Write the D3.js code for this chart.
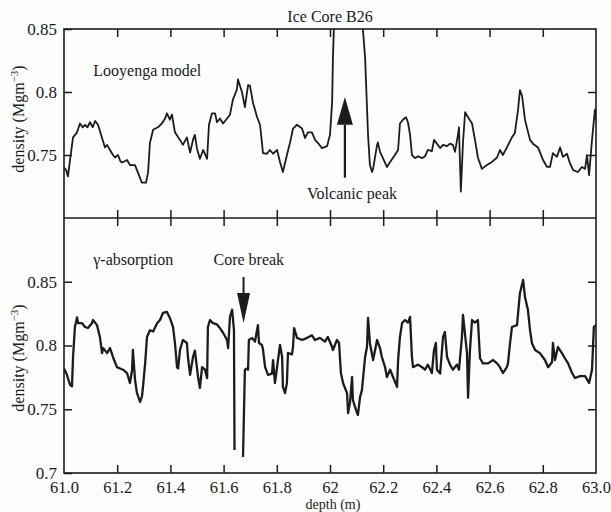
<!DOCTYPE html>
<html><head><meta charset="utf-8">
<script src="https://cdn.jsdelivr.net/npm/d3@7"></script>
<style>
html,body{margin:0;padding:0;background:#fff;}
svg text{font-family:"Liberation Serif","Times New Roman",serif;fill:#1a1a1a;}
</style></head>
<body><svg id="c" width="611" height="512"></svg>
<script>
// ---- data ----
const depthTicks = [61.0,61.2,61.4,61.6,61.8,62.0,62.2,62.4,62.6,62.8,63.0];
const depthTickLabels = ["61.0","61.2","61.4","61.6","61.8","62","62.2","62.4","62.6","62.8","63.0"];
const topTicks = [0.75,0.8,0.85];
const topTickLabels = ["0.75","0.8","0.85"];
const bottomTicks = [0.7,0.75,0.8,0.85];
const bottomTickLabels = ["0.7","0.75","0.8","0.85"];

// Looyenga model [depth m, density Mg m^-3]
const looyenga = [
[61.000,0.740],[61.008,0.738],[61.015,0.733],[61.022,0.745],[61.034,0.764],[61.049,0.768],[61.060,0.775],[61.070,0.772],
[61.079,0.774],[61.088,0.772],[61.098,0.776],[61.108,0.772],[61.117,0.777],[61.128,0.774],[61.143,0.7635],[61.154,0.756],
[61.162,0.758],[61.173,0.754],[61.184,0.750],[61.192,0.748],[61.203,0.750],[61.212,0.745],[61.218,0.744],[61.228,0.745],
[61.237,0.746],[61.248,0.742],[61.267,0.742],[61.278,0.736],[61.293,0.728],[61.308,0.728],[61.316,0.736],[61.323,0.7595],
[61.335,0.770],[61.353,0.772],[61.368,0.775],[61.380,0.779],[61.387,0.783],[61.398,0.778],[61.406,0.782],[61.417,0.768],
[61.436,0.762],[61.447,0.758],[61.462,0.764],[61.474,0.752],[61.485,0.762],[61.492,0.766],[61.500,0.755],[61.511,0.747],
[61.523,0.754],[61.538,0.747],[61.545,0.774],[61.556,0.783],[61.568,0.783],[61.575,0.776],[61.586,0.779],[61.598,0.775],
[61.613,0.779],[61.624,0.782],[61.635,0.794],[61.650,0.802],[61.654,0.810],[61.669,0.800],[61.680,0.788],[61.692,0.8055],
[61.699,0.805],[61.711,0.791],[61.726,0.780],[61.737,0.774],[61.744,0.760],[61.748,0.7515],[61.763,0.751],[61.774,0.754],
[61.786,0.751],[61.801,0.754],[61.812,0.7445],[61.823,0.7365],[61.838,0.750],[61.850,0.760],[61.861,0.771],[61.876,0.774],
[61.895,0.771],[61.906,0.7635],[61.917,0.768],[61.932,0.768],[61.944,0.762],[61.955,0.7595],[61.970,0.7555],[61.989,0.757],
[62.000,0.766],[62.008,0.792],[62.011,0.827],[62.016,0.86],[62.025,0.95],[62.110,0.95],[62.120,0.86],[62.132,0.827],
[62.143,0.766],[62.150,0.742],[62.158,0.7365],[62.162,0.739],[62.177,0.758],[62.180,0.760],[62.188,0.7525],[62.199,0.7475],
[62.214,0.7405],[62.226,0.7445],[62.244,0.750],[62.256,0.754],[62.263,0.775],[62.274,0.778],[62.286,0.780],[62.293,0.776],
[62.301,0.766],[62.308,0.750],[62.320,0.7475],[62.331,0.749],[62.346,0.7475],[62.357,0.749],[62.368,0.754],[62.383,0.753],
[62.391,0.762],[62.402,0.759],[62.414,0.7555],[62.425,0.758],[62.440,0.757],[62.451,0.759],[62.462,0.758],[62.470,0.7525],
[62.481,0.766],[62.485,0.772],[62.487,0.755],[62.492,0.721],[62.500,0.760],[62.508,0.784],[62.519,0.780],[62.534,0.775],
[62.545,0.762],[62.556,0.748],[62.571,0.739],[62.590,0.742],[62.609,0.7445],[62.628,0.748],[62.639,0.754],[62.650,0.750],
[62.665,0.756],[62.684,0.764],[62.695,0.7675],[62.707,0.786],[62.714,0.8015],[62.722,0.797],[62.733,0.778],[62.752,0.762],
[62.763,0.759],[62.782,0.756],[62.801,0.746],[62.816,0.7405],[62.827,0.7405],[62.838,0.7515],[62.853,0.7485],[62.865,0.756],
[62.876,0.7485],[62.891,0.751],[62.902,0.7435],[62.914,0.738],[62.932,0.7365],[62.947,0.7405],[62.959,0.739],[62.966,0.750],
[62.974,0.734],[62.985,0.762],[62.996,0.786],[63.000,0.778]
];

// gamma-absorption [depth m, density Mg m^-3]; null = core break gap
const gammaAbs = [
[61.000,0.782],[61.011,0.777],[61.023,0.769],[61.030,0.768],[61.034,0.791],[61.041,0.8145],[61.049,0.822],[61.053,0.8175],
[61.068,0.8175],[61.079,0.8145],[61.090,0.8137],[61.105,0.8175],[61.109,0.820],[61.124,0.816],[61.135,0.8067],[61.143,0.794],
[61.147,0.798],[61.162,0.794],[61.173,0.798],[61.184,0.791],[61.199,0.783],[61.211,0.782],[61.222,0.781],[61.237,0.7784],
[61.248,0.7706],[61.256,0.781],[61.259,0.7965],[61.267,0.773],[61.274,0.763],[61.286,0.7557],[61.293,0.760],[61.297,0.7675],
[61.305,0.786],[61.312,0.8067],[61.323,0.812],[61.335,0.811],[61.350,0.8175],[61.361,0.820],[61.372,0.8255],[61.387,0.8263],
[61.398,0.8216],[61.410,0.8145],[61.417,0.802],[61.425,0.783],[61.429,0.782],[61.436,0.7965],[61.447,0.8043],[61.462,0.802],
[61.466,0.791],[61.474,0.777],[61.485,0.791],[61.492,0.796],[61.504,0.7753],[61.511,0.7667],[61.519,0.783],[61.530,0.781],
[61.538,0.7745],[61.541,0.8145],[61.549,0.820],[61.560,0.8175],[61.575,0.8165],[61.586,0.8137],[61.598,0.810],[61.613,0.8043],
[61.617,0.798],[61.624,0.8224],[61.632,0.828],[61.639,0.812],[61.641,0.718],[61.657,null],[61.673,0.7126],[61.680,0.781],
[61.688,0.782],[61.692,0.781],[61.695,0.8043],[61.707,0.806],[61.718,0.803],[61.729,0.816],[61.733,0.802],[61.744,0.8004],
[61.748,0.797],[61.756,0.783],[61.767,0.777],[61.782,0.778],[61.786,0.7886],[61.793,0.7706],[61.801,0.783],[61.812,0.8004],
[61.820,0.791],[61.823,0.7675],[61.831,0.7627],[61.838,0.7706],[61.842,0.7941],[61.857,0.793],[61.861,0.7988],[61.865,0.8137],
[61.876,0.806],[61.895,0.8043],[61.914,0.806],[61.932,0.808],[61.944,0.8043],[61.962,0.806],[61.981,0.803],[61.992,0.8067],
[62.008,0.7988],[62.011,0.7965],[62.026,0.8043],[62.034,0.802],[62.041,0.7784],[62.049,0.7706],[62.064,0.7627],[62.068,0.747],
[62.075,0.755],[62.083,0.7753],[62.086,0.7573],[62.094,0.7518],[62.102,0.747],[62.105,0.7455],[62.113,0.7596],[62.120,0.765],
[62.132,0.791],[62.139,0.7988],[62.143,0.8216],[62.150,0.802],[62.162,0.7886],[62.177,0.8043],[62.188,0.798],[62.195,0.791],
[62.207,0.783],[62.214,0.7753],[62.226,0.781],[62.237,0.7753],[62.252,0.7675],[62.256,0.7886],[62.263,0.8067],[62.271,0.8176],
[62.282,0.820],[62.293,0.818],[62.301,0.8224],[62.308,0.791],[62.312,0.783],[62.331,0.785],[62.346,0.783],[62.357,0.781],
[62.368,0.785],[62.383,0.7784],[62.391,0.7965],[62.398,0.802],[62.402,0.781],[62.414,0.778],[62.425,0.8067],[62.432,0.8106],
[62.440,0.791],[62.451,0.785],[62.462,0.781],[62.477,0.785],[62.485,0.781],[62.496,0.8067],[62.500,0.824],[62.508,0.808],
[62.515,0.794],[62.519,0.759],[62.526,0.796],[62.534,0.820],[62.545,0.818],[62.556,0.820],[62.564,0.790],[62.575,0.786],
[62.594,0.786],[62.613,0.7886],[62.628,0.786],[62.639,0.783],[62.650,0.7784],[62.665,0.783],[62.669,0.786],[62.677,0.802],
[62.684,0.8145],[62.703,0.816],[62.714,0.841],[62.726,0.8514],[62.733,0.838],[62.744,0.828],[62.752,0.812],[62.759,0.802],
[62.771,0.7965],[62.789,0.794],[62.808,0.7886],[62.820,0.783],[62.835,0.787],[62.838,0.802],[62.846,0.7886],[62.857,0.7988],
[62.872,0.794],[62.883,0.790],[62.895,0.786],[62.910,0.7784],[62.921,0.7745],[62.940,0.776],[62.959,0.776],[62.974,0.7706],
[62.985,0.781],[62.992,0.8145],[63.000,0.816]
];

// annotations: text labels and arrows (depth, density)
const topLabels = [{t:"Looyenga model", d:61.11, v:0.8130},{t:"Volcanic peak", d:61.914, v:0.7151}];
const bottomLabels = [{t:"\u03b3-absorption", d:61.11, v:0.8635},{t:"Core break", d:61.562, v:0.8635}];
const upArrow = {d:62.056, tail:0.732, head:0.774, tip:0.796};
const downArrow = {d:61.675, tail:0.8537, head:0.8412, tip:0.8176};

// ---- layout ----
const L = 64, R = 596, T1 = 29, M = 218, B2 = 473;
const svg = d3.select("#c");
const ink = "#1c1c1c";

const x = d3.scaleLinear().domain([61, 63]).range([L, R]);
const yTop = d3.scaleLinear().domain([0.70, 0.85]).range([M, T1]);
const yBot = d3.scaleLinear().domain([0.70, 0.90]).range([B2, M]);

svg.append("rect").attr("width",611).attr("height",512).attr("fill","#fdfdfd");

const defs = svg.append("defs");
defs.append("clipPath").attr("id","cTop").append("rect").attr("x",L).attr("y",T1).attr("width",R-L).attr("height",M-T1);
defs.append("clipPath").attr("id","cBot").append("rect").attr("x",L).attr("y",M).attr("width",R-L).attr("height",B2-M);

// lines
const lineTop = d3.line().x(d=>x(d[0])).y(d=>yTop(d[1]));
const lineBot = d3.line().defined(d=>d[1]!==null).x(d=>x(d[0])).y(d=>yBot(d[1]));
svg.append("path").datum(looyenga).attr("clip-path","url(#cTop)").attr("d",lineTop)
  .attr("fill","none").attr("stroke",ink).attr("stroke-width",1.8).attr("stroke-linejoin","round");
svg.append("path").datum(gammaAbs).attr("clip-path","url(#cBot)").attr("d",lineBot)
  .attr("fill","none").attr("stroke",ink).attr("stroke-width",2.3).attr("stroke-linejoin","round");

// axes (inward ticks)
function styleAxis(g, fs){
  g.select(".domain").remove();
  g.selectAll("line").attr("stroke",ink).attr("stroke-width",1.5);
  g.selectAll("text").attr("font-family","Liberation Serif, serif").attr("font-size",fs||17).attr("fill",ink);
}
const inner = depthTicks.slice(1,-1);
svg.append("g").attr("transform",`translate(0,${T1})`).call(d3.axisTop(x).tickValues(inner).tickSize(-8).tickFormat("")).call(styleAxis);
svg.append("g").attr("transform",`translate(0,${M})`).call(d3.axisBottom(x).tickValues(inner).tickSize(-8).tickFormat("")).call(styleAxis);
svg.append("g").attr("transform",`translate(0,${M})`).call(d3.axisTop(x).tickValues(inner).tickSize(-8).tickFormat("")).call(styleAxis);
svg.append("g").attr("transform",`translate(0,${B2})`)
  .call(d3.axisBottom(x).tickValues(depthTicks).tickSize(-8).tickPadding(8).tickFormat((d,i)=>depthTickLabels[i])).call(styleAxis, 16.5)
  .selectAll(".tick").filter((d,i)=>i===0||i===depthTicks.length-1).select("line").remove();

svg.append("g").attr("transform",`translate(${L},0)`)
  .call(d3.axisLeft(yTop).tickValues(topTicks).tickSize(-8).tickPadding(7).tickFormat((d,i)=>topTickLabels[i])).call(styleAxis);
svg.append("g").attr("transform",`translate(${R},0)`)
  .call(d3.axisRight(yTop).tickValues(topTicks.slice(0,2)).tickSize(-8).tickFormat("")).call(styleAxis);
svg.append("g").attr("transform",`translate(${L},0)`)
  .call(d3.axisLeft(yBot).tickValues(bottomTicks).tickSize(-8).tickPadding(7).tickFormat((d,i)=>bottomTickLabels[i])).call(styleAxis);
svg.append("g").attr("transform",`translate(${R},0)`)
  .call(d3.axisRight(yBot).tickValues(bottomTicks.slice(1)).tickSize(-8).tickFormat("")).call(styleAxis);

// frames
svg.append("rect").attr("x",L).attr("y",T1).attr("width",R-L).attr("height",B2-T1)
  .attr("fill","none").attr("stroke",ink).attr("stroke-width",1.6);
svg.append("line").attr("x1",L).attr("x2",R).attr("y1",M).attr("y2",M).attr("stroke",ink).attr("stroke-width",1.6);

// titles
svg.append("text").attr("x",330).attr("y",22).attr("text-anchor","middle").attr("font-size",16).text("Ice Core B26");
svg.append("text").attr("x",333).attr("y",508.5).attr("text-anchor","middle").attr("font-size",14).text("depth (m)");

function yLabel(cy){
  const t = svg.append("text").attr("transform",`translate(24,${cy}) rotate(-90)`).attr("text-anchor","middle").attr("font-size",16);
  t.append("tspan").text("density (Mgm");
  t.append("tspan").attr("font-size",11).attr("dy",-6).text("\u22123");
  t.append("tspan").attr("dy",6).text(")");
}
yLabel(119); yLabel(358);

// annotations
topLabels.forEach(a=>svg.append("text").attr("x",x(a.d)).attr("y",yTop(a.v)).attr("font-size",16).text(a.t));
bottomLabels.forEach(a=>svg.append("text").attr("x",x(a.d)).attr("y",yBot(a.v)).attr("font-size",16).text(a.t));

// up arrow (top panel)
svg.append("line").attr("x1",x(upArrow.d)).attr("x2",x(upArrow.d)).attr("y1",yTop(upArrow.tail)).attr("y2",yTop(upArrow.head))
  .attr("stroke",ink).attr("stroke-width",2.2);
svg.append("path").attr("fill",ink)
  .attr("d",`M${x(upArrow.d)-8},${yTop(upArrow.head)} L${x(upArrow.d)},${yTop(upArrow.tip)} L${x(upArrow.d)+8},${yTop(upArrow.head)} Z`);
// down arrow (bottom panel)
svg.append("line").attr("x1",x(downArrow.d)).attr("x2",x(downArrow.d)).attr("y1",yBot(downArrow.tail)).attr("y2",yBot(downArrow.head))
  .attr("stroke",ink).attr("stroke-width",2);
svg.append("path").attr("fill",ink)
  .attr("d",`M${x(downArrow.d)-6.5},${yBot(downArrow.head)} L${x(downArrow.d)},${yBot(downArrow.tip)} L${x(downArrow.d)+6.5},${yBot(downArrow.head)} Z`);
</script>
</body></html>
